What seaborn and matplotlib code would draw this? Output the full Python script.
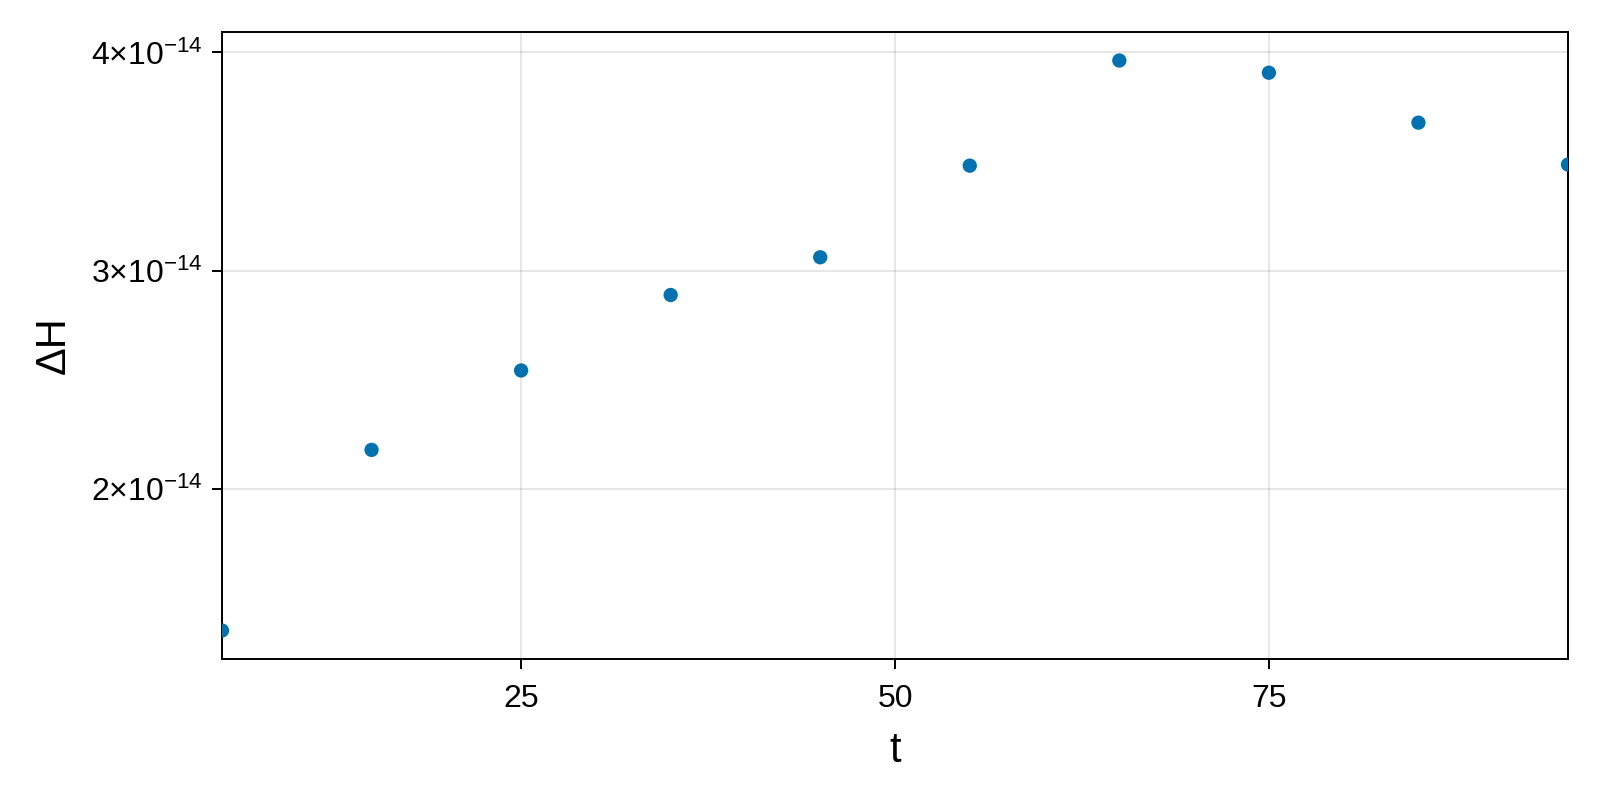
import matplotlib
matplotlib.use("Agg")
import matplotlib.pyplot as plt
import seaborn as sb
from matplotlib import ticker

t = [5, 15, 25, 35, 45, 55, 65, 75, 85, 95]
dH = [1.35e-14, 2.178e-14, 2.542e-14, 2.888e-14, 3.061e-14,
      3.481e-14, 3.963e-14, 3.907e-14, 3.678e-14, 3.486e-14]
xticks = [25, 50, 75]
yticks = [2e-14, 3e-14, 4e-14]

sb.set_style("white")
plt.rcParams["font.family"] = ["Liberation Sans", "DejaVu Sans"]
plt.rcParams["mathtext.fontset"] = "custom"
plt.rcParams["mathtext.rm"] = "Liberation Sans"
plt.rcParams["mathtext.it"] = "Liberation Sans:italic"
plt.rcParams["text.color"] = "black"
plt.rcParams["axes.labelcolor"] = "black"

fig = plt.figure(figsize=(16, 8), dpi=100)
ax = fig.add_axes([0.13875, 0.17625, 0.84125, 0.78375])

sb.scatterplot(x=t, y=dH, ax=ax, s=106, color="#0072B2",
               edgecolor="none", linewidth=0, zorder=3)

ax.set_xlim(5, 95)
lo, hi = min(dH), max(dH)
pad = (hi - lo) * 0.05
ax.set_ylim(lo - pad, hi + pad)
ax.set_xticks(xticks)
ax.set_yticks(yticks)


def sci(v, _):
    m = v / 1e-14
    return r"$%d{\times}10^{-14}$" % round(m)


ax.yaxis.set_major_formatter(ticker.FuncFormatter(sci))
ax.grid(True, color="black", alpha=0.12, linewidth=1.1)
ax.set_axisbelow(True)
for sp in ax.spines.values():
    sp.set_linewidth(1.4)
    sp.set_color("black")
ax.tick_params(axis="both", direction="out", length=7, width=1.4,
               labelsize=23, colors="black", left=True, bottom=True)
ax.tick_params(axis="x", pad=11)
ax.tick_params(axis="y", pad=7)
ax.set_xlabel("t", fontsize=30, labelpad=12)
ax.set_ylabel("ΔH", fontsize=30, labelpad=12)

fig.savefig("out.png", dpi=100)
